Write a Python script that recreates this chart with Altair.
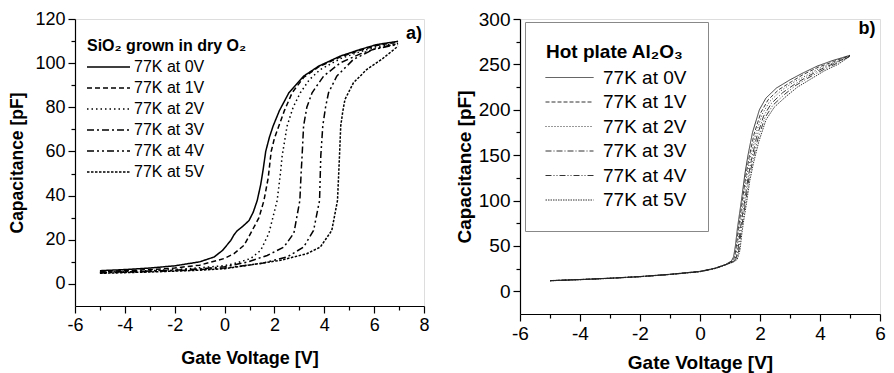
import altair as alt
import pandas as pd

FONT = "Liberation Sans"

series = ["77K at 0V", "77K at 1V", "77K at 2V", "77K at 3V", "77K at 4V", "77K at 5V"]
panel_tags = ["a)", "b)"]
title_a = "SiO₂ grown in dry O₂"
title_b = "Hot plate Al₂O₃"

# ---------------- panel a (SiO2) ----------------
a0_x = [-5, -4, -3, -2, -1, -0.42, -0.08, 0.25, 0.38, 0.5, 0.75, 0.98, 1.15, 1.31, 1.45, 1.55, 1.65, 1.8, 1.95, 2.2, 2.58, 3.17, 3.77, 4.64, 5.44, 6.1, 6.96]
a0_y = [6.0, 6.5, 7.2, 8.2, 10.0, 12.2, 15.2, 19.7, 22.3, 24.0, 26.3, 28.7, 32.5, 37.8, 45, 52, 60, 66.5, 71.6, 78.5, 86.6, 94.1, 98.6, 103.2, 106.2, 108.4, 109.9]
a1_x = [-5, -4, -3, -2, -1, -0.02, 0.38, 0.78, 1.05, 1.38, 1.58, 1.75, 1.87, 2.0, 2.18, 2.4, 2.71, 3.17, 3.77, 4.64, 5.44, 6.1, 6.96]
a1_y = [5.6, 6.0, 6.5, 7.2, 8.5, 11.5, 13.7, 17.5, 23.0, 30.0, 37.8, 48, 60, 66, 71.6, 78.5, 86.6, 93.5, 98.3, 102.8, 105.8, 108.0, 109.5]
a2_x = [-5, -4, -3, -2, -1, 0, 0.38, 1.05, 1.45, 1.78, 2.11, 2.24, 2.31, 2.51, 2.75, 3.04, 3.4, 3.84, 4.64, 5.44, 6.1, 6.96]
a2_y = [5.3, 5.6, 6.0, 6.5, 7.3, 8.3, 9.2, 11.5, 15.2, 23.0, 37.8, 50, 58, 71.6, 80, 86.6, 92.5, 97.1, 102, 105.2, 107.5, 109]
a3_x = [-5, -4, -3, -2, -1, 0, 0.91, 1.71, 2.38, 2.78, 3.02, 3.07, 3.11, 3.17, 3.3, 3.51, 3.97, 4.64, 5.44, 6.1, 6.96]
a3_y = [5.2, 5.5, 5.8, 6.2, 6.8, 7.8, 9.9, 12.9, 16.7, 23.0, 37.8, 50, 58, 71.6, 80, 86.6, 94.1, 100.1, 104.2, 106.7, 108.8]
a4_x = [-5, -4, -3, -2, -1, 0, 1.45, 2.51, 3.17, 3.57, 3.81, 3.86, 3.94, 4.05, 4.17, 4.5, 5.17, 5.97, 6.96]
a4_y = [5.0, 5.3, 5.6, 6.0, 6.5, 7.2, 9.2, 12.2, 16.7, 24.2, 37.8, 58, 71.6, 80, 86.6, 94.1, 101.7, 106.2, 108.5]
a5_x = [-5, -4, -3, -2, -1, 0, 0.91, 2.25, 3.3, 3.84, 4.3, 4.53, 4.61, 4.66, 4.74, 4.83, 5.17, 5.70, 6.3, 6.96]
a5_y = [4.8, 5.1, 5.4, 5.8, 6.2, 6.9, 8.4, 10.7, 13.7, 16.7, 24.2, 37.8, 58, 71.6, 78, 83.6, 91.1, 97.1, 101.7, 107.7]

# ---------------- panel b (Al2O3) ----------------
b0_x = [-5, -4, -3, -2, -1, 0, 0.5, 0.85, 1.05, 1.12, 1.18, 1.25, 1.32, 1.38, 1.5, 1.6, 1.75, 1.98, 2.2, 2.55, 3.0, 3.4, 3.9, 4.4, 5.0]
b0_y = [11.8, 13.0, 14.5, 16.3, 18.8, 22.0, 25.5, 29.5, 33.5, 38, 50, 70, 86, 100, 130, 150, 175, 200, 213, 224, 233, 240, 248, 254, 260]
b1_x = [-5, -4, -3, -2, -1, 0, 0.5, 0.85, 1.07, 1.15, 1.21, 1.28, 1.35, 1.41, 1.53, 1.64, 1.8, 2.03, 2.27, 2.62, 3.05, 3.45, 3.95, 4.45, 5.0]
b1_y = [11.8, 13.0, 14.4, 16.2, 18.7, 21.9, 25.4, 29.4, 33.2, 37, 49, 69, 85, 99, 128, 148, 173, 197, 211, 222, 231, 239, 247, 253, 260]
b2_x = [-5, -4, -3, -2, -1, 0, 0.5, 0.85, 1.09, 1.18, 1.24, 1.31, 1.38, 1.44, 1.56, 1.67, 1.84, 2.07, 2.32, 2.7, 3.1, 3.5, 4.0, 4.5, 5.0]
b2_y = [11.7, 12.9, 14.4, 16.2, 18.6, 21.8, 25.3, 29.3, 33, 36.5, 48, 68, 84, 98, 127, 146, 171, 195, 209, 221, 230, 237, 246, 252, 259.5]
b3_x = [-5, -4, -3, -2, -1, 0, 0.5, 0.85, 1.10, 1.2, 1.27, 1.34, 1.41, 1.48, 1.6, 1.71, 1.88, 2.12, 2.38, 2.76, 3.15, 3.55, 4.05, 4.5, 5.0]
b3_y = [11.7, 12.9, 14.3, 16.1, 18.6, 21.7, 25.2, 29.2, 32.8, 36, 47, 67, 83, 97, 125, 144, 169, 193, 207, 219, 228, 236, 245, 251.5, 259.5]
b4_x = [-5, -4, -3, -2, -1, 0, 0.5, 0.85, 1.11, 1.22, 1.3, 1.37, 1.44, 1.51, 1.63, 1.75, 1.92, 2.16, 2.43, 2.82, 3.2, 3.6, 4.1, 4.55, 5.0]
b4_y = [11.6, 12.8, 14.3, 16.1, 18.5, 21.6, 25.1, 29.1, 32.6, 35.5, 46, 66, 82, 96, 124, 143, 167, 191, 205, 217, 227, 235, 244, 251, 259]
b5_x = [-5, -4, -3, -2, -1, 0, 0.5, 0.85, 1.12, 1.24, 1.33, 1.4, 1.47, 1.54, 1.66, 1.78, 1.96, 2.2, 2.48, 2.88, 3.25, 3.65, 4.15, 4.6, 5.0]
b5_y = [11.6, 12.8, 14.2, 16.0, 18.5, 21.5, 25.0, 29.0, 32.4, 35, 45, 65, 81, 95, 122, 141, 165, 189, 203, 215, 225, 233, 243, 250, 259]


def build(xs, ys):
    rows = []
    for s, xv, yv in zip(series, xs, ys):
        for i, (x, y) in enumerate(zip(xv, yv)):
            rows.append({"series": s, "V": x, "C": y, "i": i})
    return pd.DataFrame(rows)


df_a = build([a0_x, a1_x, a2_x, a3_x, a4_x, a5_x], [a0_y, a1_y, a2_y, a3_y, a4_y, a5_y])
df_b = build([b0_x, b1_x, b2_x, b3_x, b4_x, b5_x], [b0_y, b1_y, b2_y, b3_y, b4_y, b5_y])

dash_a = [[1, 0], [5, 3], [1.5, 3], [7, 3, 2, 3], [7, 3, 2, 3, 2, 3], [2.5, 1.5]]
dash_b = [[1, 0], [4, 2], [1, 2], [6, 2, 1, 2], [6, 2, 1, 2, 1, 2], [1.5, 1]]


def main_axis(title, values, fs_label, fs_title, title_pad, orient):
    return alt.Axis(title=title, values=values, orient=orient, grid=False,
                    labelFont=FONT, labelFontSize=fs_label, labelColor="black",
                    labelExpr="toString(datum.value)",
                    titleFont=FONT, titleFontSize=fs_title, titleFontWeight="bold",
                    titleColor="black", titlePadding=title_pad, labelPadding=3,
                    tickSize=7, tickWidth=1.2, tickColor="black",
                    domainColor="black", domainWidth=1.2, labelFlush=False)


def minor_axis(values, orient):
    return alt.Axis(title=None, values=values, orient=orient, grid=False, labels=False,
                    domain=False, tickSize=4, tickWidth=1.2, tickColor="black")


def panel(df, dashes, xdom, ydom, xmaj, ymaj, xmin, ymin, w, h, leg, tag, tagx, tagy,
          fs_label, fs_title_x, fs_title_y, xpad, ypad, color, sw):
    lines = alt.Chart(df).mark_line(color=color, strokeWidth=sw).encode(
        x=alt.X("V:Q", scale=alt.Scale(domain=xdom, nice=False, zero=False),
                axis=main_axis("Gate Voltage [V]", xmaj, fs_label, fs_title_x, xpad, "bottom")),
        y=alt.Y("C:Q", scale=alt.Scale(domain=ydom, nice=False, zero=False),
                axis=main_axis("Capacitance [pF]", ymaj, fs_label, fs_title_y, ypad, "left")),
        strokeDash=alt.StrokeDash("series:N", scale=alt.Scale(domain=series, range=dashes),
                                  legend=leg),
        order="i:Q",
    )
    tagdf = pd.DataFrame({"t": [tag]})
    label = alt.Chart(tagdf).mark_text(font=FONT, fontSize=18, fontWeight="bold",
                                        color="black").encode(
        x=alt.XDatum(tagx, type="quantitative", axis=minor_axis(xmin, "bottom")),
        y=alt.YDatum(tagy, type="quantitative", axis=minor_axis(ymin, "left")),
        text="t:N",
    )
    return alt.layer(lines, label).resolve_axis(x="independent", y="independent").properties(
        width=w, height=h)


leg_a = alt.Legend(title=title_a, orient="none", legendX=12, legendY=19,
                   titleFont=FONT, titleFontSize=16, titleFontWeight="bold", titleColor="black",
                   titlePadding=5, titleLimit=0, labelLimit=0,
                   labelFont=FONT, labelFontSize=16, labelColor="black",
                   symbolType="M-4.3,0H4.3", symbolSize=100, symbolStrokeWidth=1.5,
                   symbolStrokeColor="black", symbolFillColor="transparent",
                   symbolOffset=13.5, labelOffset=17.5, rowPadding=5, padding=0,
                   strokeColor="transparent")

leg_b = alt.Legend(title=title_b, orient="none", legendX=5, legendY=3,
                   titleFont=FONT, titleFontSize=19, titleFontWeight="bold", titleColor="black",
                   titlePadding=6, titleLimit=0, labelLimit=0,
                   labelFont=FONT, labelFontSize=19, labelColor="black",
                   symbolType="M-4.8,0H4.8", symbolSize=100, symbolStrokeWidth=1,
                   symbolStrokeColor="#333", symbolFillColor="transparent",
                   symbolOffset=14, labelOffset=24, rowPadding=4.5, padding=21,
                   strokeColor="#888", fillColor="white")

left = panel(df_a, dash_a, [-6, 8], [-10, 120], list(range(-6, 9, 2)), list(range(0, 121, 20)),
             [-5, -3, -1, 1, 3, 5, 7], [10, 30, 50, 70, 90, 110], 349, 287, leg_a,
             panel_tags[0], 7.6, 113, 18, 18, 17.5, 15, 8, "black", 1.5)

right = panel(df_b, dash_b, [-6, 6], [-25, 300], list(range(-6, 7, 2)), list(range(0, 301, 50)),
              [-5, -3, -1, 1, 3, 5], [25, 75, 125, 175, 225, 275], 360, 295, leg_b,
              panel_tags[1], 5.57, 289, 19, 19, 19, 10, 4, "#222", 0.9)

chart = alt.hconcat(left, right, spacing=24).resolve_scale(
    strokeDash="independent").resolve_legend(strokeDash="independent").configure_view(
    stroke="black", strokeWidth=1.2).configure(
    background="white", padding={"left": 0, "top": 1, "right": 0, "bottom": 5})

chart.save("out.html", embed_options={"renderer": "svg", "actions": False})
